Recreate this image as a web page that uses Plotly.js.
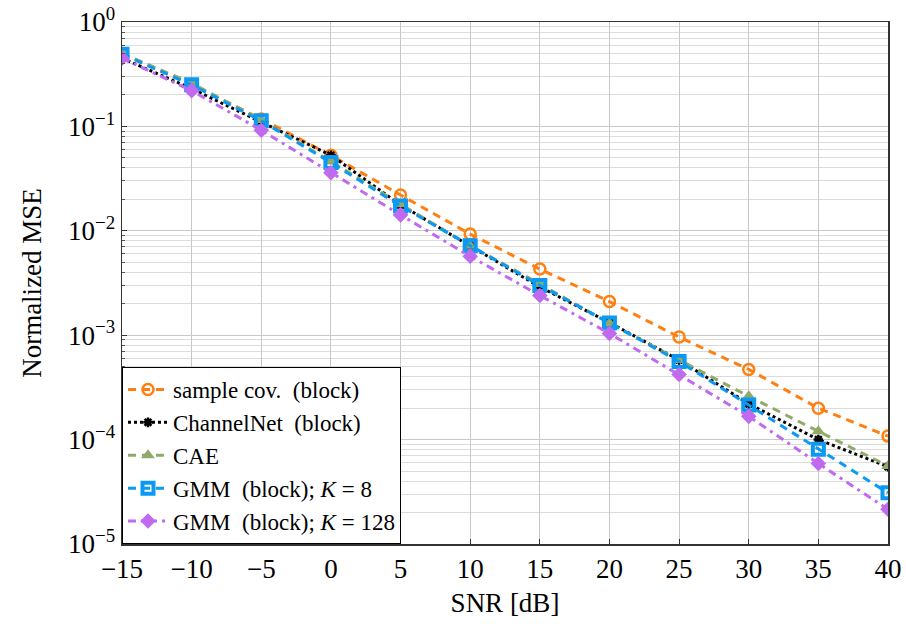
<!DOCTYPE html>
<html>
<head>
<meta charset="utf-8">
<script src="https://cdn.plot.ly/plotly-3.0.1.min.js"></script>
<style>html,body{margin:0;padding:0;background:#fff;}#chart{width:906px;height:624px;}</style>
</head>
<body>
<div id="chart"></div>
<script>
const snr = [-15, -10, -5, 0, 5, 10, 15, 20, 25, 30, 35, 40];
const sampleCov = [0.50, 0.25, 0.118, 0.053, 0.022, 0.0093, 0.0043, 0.0021, 0.00096, 0.00047, 0.00020, 0.000108];
const channelNet = [0.45, 0.23, 0.11, 0.053, 0.0177, 0.0072, 0.0029, 0.00132, 0.00058, 0.00022, 0.000100, 0.000055];
const cae = [0.50, 0.26, 0.115, 0.046, 0.018, 0.0072, 0.0031, 0.0013, 0.00058, 0.00026, 0.000120, 0.000056];
const gmm8 = [0.49, 0.25, 0.113, 0.045, 0.0173, 0.0072, 0.0030, 0.00131, 0.00056, 0.000214, 0.000081, 0.0000309];
const gmm128 = [0.45, 0.22, 0.092, 0.036, 0.0142, 0.0057, 0.0024, 0.00104, 0.00042, 0.000167, 0.000059, 0.0000215];
const xTicks = [-15, -10, -5, 0, 5, 10, 15, 20, 25, 30, 35, 40];
const xTickText = ['−15', '−10', '−5', '0', '5', '10', '15', '20', '25', '30', '35', '40'];
const yTicks = [1, 0.1, 0.01, 0.001, 0.0001, 0.00001];
const yTickText = ['10<sup>0</sup>', '10<sup>−1</sup>', '10<sup>−2</sup>', '10<sup>−3</sup>', '10<sup>−4</sup>', '10<sup>−5</sup>'];
const names = ['sample cov.  (block)', 'ChannelNet  (block)', 'CAE', 'GMM  (block); <i>K</i> = 8', 'GMM  (block); <i>K</i> = 128'];

const font = "Liberation Serif";
const traces = [
  {x: snr, y: sampleCov, name: names[0], mode: 'lines+markers',
   line: {color: '#ff8011', width: 3, dash: '8px,6px'},
   marker: {symbol: 'circle-open', size: 11, color: '#ff8011', line: {width: 2.5, color: '#ff8011'}}},
  {x: snr, y: channelNet, name: names[1], mode: 'lines+markers',
   line: {color: '#000000', width: 3, dash: 'dot'},
   marker: {symbol: 'asterisk-open', size: 8, color: '#000000', line: {width: 2.5, color: '#000000'}}},
  {x: snr, y: cae, name: names[2], mode: 'lines+markers',
   line: {color: '#8faa6a', width: 3, dash: '8px,6px'},
   marker: {symbol: 'triangle-up', size: 12, color: '#8faa6a'}},
  {x: snr, y: gmm8, name: names[3], mode: 'lines+markers',
   line: {color: '#0a9af5', width: 3, dash: '8px,6px'},
   marker: {symbol: 'square-open', size: 11, color: '#0a9af5', line: {width: 4, color: '#0a9af5'}}},
  {x: snr, y: gmm128, name: names[4], mode: 'lines+markers',
   line: {color: '#c06af0', width: 3, dash: '8px,5px,3px,5px'},
   marker: {symbol: 'diamond', size: 12, color: '#c06af0'}}
];

const layout = {
  width: 906, height: 624,
  margin: {l: 122, r: 18, t: 22, b: 80},
  paper_bgcolor: '#fff', plot_bgcolor: '#fff',
  font: {family: font, size: 26, color: '#000'},
  showlegend: true,
  legend: {x: 0, y: 0, xanchor: 'left', yanchor: 'bottom', bgcolor: '#fff',
    bordercolor: '#000', borderwidth: 1, font: {family: font, size: 23},
    tracegroupgap: 0, itemwidth: 40},
  xaxis: {range: [-15, 40], tickvals: xTicks, ticktext: xTickText,
    showgrid: true, gridcolor: '#c8c8c8', gridwidth: 1,
    showline: true, mirror: true, linecolor: '#333', linewidth: 1.5,
    ticks: 'inside', ticklen: 5, tickcolor: '#333', zeroline: false,
    tickfont: {family: font, size: 27},
    title: {text: 'SNR [dB]', font: {family: font, size: 27}, standoff: 10}},
  yaxis: {type: 'log', range: [-5, 0], tickvals: yTicks, ticktext: yTickText,
    showgrid: true, gridcolor: '#c8c8c8', gridwidth: 1,
    showline: true, mirror: true, linecolor: '#333', linewidth: 1.5,
    ticks: 'inside', ticklen: 5, tickcolor: '#333', zeroline: false,
    tickfont: {family: font, size: 27},
    minor: {showgrid: true, gridcolor: '#dcdcdc', gridwidth: 1, ticks: 'inside', ticklen: 3, tickcolor: '#555', dtick: 'D1'},
    title: {text: 'Normalized MSE', font: {family: font, size: 27}, standoff: 18}}
};
Plotly.newPlot('chart', traces, layout, {displayModeBar: false, staticPlot: true});
</script>
</body>
</html>
